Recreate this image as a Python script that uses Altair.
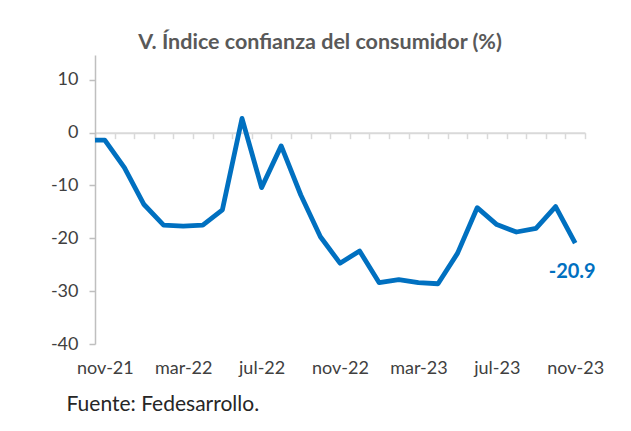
import altair as alt
import pandas as pd

# oct-21 lies just left of the plot area and is clipped (gives the flat stub at the axis)
months = ["oct-21", "nov-21", "dic-21", "ene-22", "feb-22", "mar-22", "abr-22", "may-22", "jun-22",
          "jul-22", "ago-22", "sep-22", "oct-22", "nov-22", "dic-22", "ene-23", "feb-23",
          "mar-23", "abr-23", "may-23", "jun-23", "jul-23", "ago-23", "sep-23", "oct-23", "nov-23"]
values = [-1.4, -1.4, -6.6, -13.6, -17.5, -17.7, -17.5, -14.6, 2.7, -10.4, -2.5, -11.8, -19.7,
          -24.7, -22.4, -28.4, -27.8, -28.4, -28.6, -22.8, -14.2, -17.4, -18.8, -18.1, -14.0, -20.9]
y_ticks = [-40, -30, -20, -10, 0, 10]
label_every = [0, 4, 8, 12, 16, 20, 24]

df = pd.DataFrame({"i": [k - 1 for k in range(len(months))], "mes": months, "valor": values})
last = df.tail(1)

FONT = "Lato"
W, H = 490, 289
YMIN, YMAX = -40, 14.7
N = len(months) - 1  # shown categories
zero_offset = -H * (0 - YMIN) / (YMAX - YMIN)

xscale = alt.Scale(domain=[-0.5, N - 0.5], nice=False, zero=False)
yscale = alt.Scale(domain=[YMIN, YMAX], nice=False, zero=False)

label_expr = "[" + ",".join("'" + m + "'" for m in months) + "][datum.value + 1]"

yaxis = alt.Axis(values=y_ticks, grid=False, domainColor="#BFBFBF", domainWidth=1.5,
                 tickColor="#BFBFBF", tickSize=6, tickWidth=1.5, labelPadding=11,
                 labelExpr="datum.value + ''",
                 labelFont=FONT, labelFontSize=18, labelColor="#404040", title=None)

# zero-line axis with category-boundary ticks
zero_axis = alt.Axis(orient="bottom", offset=zero_offset,
                     values=[k - 0.5 for k in range(N + 1)],
                     labels=False, grid=False, domainColor="#D9D9D9", domainWidth=2,
                     tickColor="#D9D9D9", tickWidth=1.5, tickSize=6, title=None)

# label axis at the bottom
label_axis = alt.Axis(orient="bottom", values=label_every, labelExpr=label_expr, domain=False,
                      ticks=False, grid=False, labelPadding=15, labelFont=FONT, labelFontSize=18,
                      labelColor="#404040", title="Fuente: Fedesarrollo.", titleFont=FONT,
                      titleFontSize=21, titleFontWeight="normal", titleColor="#262626",
                      titleAnchor="start", titleAlign="left", titleBaseline="alphabetic",
                      titleX=-29, titleY=66)

base = alt.Chart(df)

axis_layer = base.mark_line(opacity=0).encode(
    x=alt.X("i:Q", scale=xscale, axis=zero_axis),
    y=alt.Y("valor:Q", scale=yscale, axis=yaxis),
)

line = base.mark_line(color="#0070C0", strokeWidth=4.8, strokeJoin="round", clip=True).encode(
    x=alt.X("i:Q", scale=xscale, axis=label_axis),
    y=alt.Y("valor:Q", scale=yscale, axis=None),
)

lab = alt.Chart(last).mark_text(color="#0070C0", font=FONT, fontSize=20, fontWeight="bold",
                                dy=29, dx=-3).encode(
    x=alt.X("i:Q", scale=xscale, axis=None),
    y=alt.Y("valor:Q", scale=yscale, axis=None),
    text=alt.Text("valor:N"),
)

chart = alt.layer(axis_layer, line, lab).resolve_axis(x="independent", y="independent").properties(
    width=W, height=H,
    autosize=alt.AutoSizeParams(type="none"),
    padding={"left": 87, "top": 47, "right": 38, "bottom": 79},
    background="white",
    title=alt.Title("V. Índice confianza del consumidor (%)", font=FONT, fontSize=21.5,
                    fontWeight="bold", color="#595959", anchor="middle", dx=-20, offset=2),
).configure_view(stroke=None)

chart.save("out.html", embed_options={"renderer": "svg", "actions": False})
